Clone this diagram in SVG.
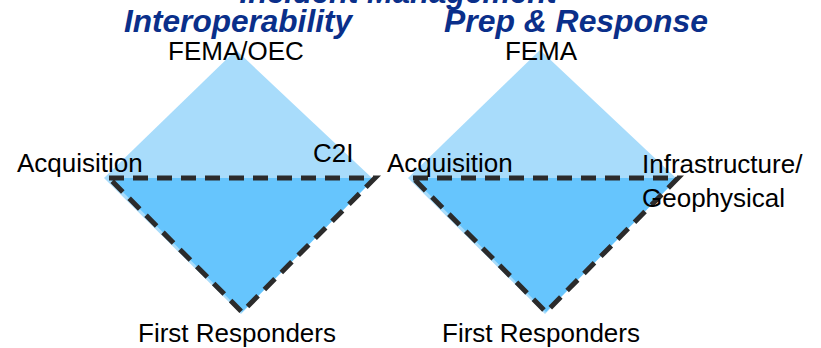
<svg xmlns="http://www.w3.org/2000/svg" width="821" height="348" viewBox="0 0 821 348">
  <style>
    .light { fill: #A8DCFB; }
    .dark { fill: #66C5FD; }
    .dash { fill: none; stroke: #2B2B2B; stroke-width: 5; stroke-dasharray: 15 9; stroke-linejoin: miter; stroke-miterlimit: 10; }
    .title { font-family: "Liberation Sans", Arial, sans-serif; font-weight: bold; font-style: italic; font-size: 31px; fill: #0A2F8A; }
    .lbl { font-family: "Liberation Sans", Arial, sans-serif; font-size: 26px; fill: #000000; }
  </style>
  <rect width="821" height="348" fill="#FFFFFF"/>
  <g id="diamond-left">
    <polygon class="light" points="236,50 372,178 241,314 104,178"/>
    <polygon class="dark" points="109,178 375,178 242,312"/>
    <polygon class="dash" points="109,178 375,178 242,312"/>
  </g>
  <g id="diamond-right">
    <polygon class="light" points="540,50 676,178 545,314 408,178"/>
    <polygon class="dark" points="413,178 678,178 546,312"/>
    <polygon class="dash" points="413,178 678,178 546,312"/>
  </g>
  <g id="title">
    <text class="title" x="398" y="3" text-anchor="middle">Incident Management</text>
  </g>
  <g id="subtitle-left">
    <text class="title" x="238" y="32" text-anchor="middle" textLength="228" lengthAdjust="spacingAndGlyphs">Interoperability</text>
  </g>
  <g id="subtitle-right">
    <text class="title" x="576" y="32" text-anchor="middle" textLength="264" lengthAdjust="spacingAndGlyphs">Prep &amp; Response</text>
  </g>
  <g id="labels-left">
    <text class="lbl" x="236" y="60" text-anchor="middle">FEMA/OEC</text>
    <text class="lbl" x="17" y="172">Acquisition</text>
    <text class="lbl" x="313" y="162">C2I</text>
    <text class="lbl" x="237" y="342" text-anchor="middle">First Responders</text>
  </g>
  <g id="labels-right">
    <text class="lbl" x="541" y="60" text-anchor="middle">FEMA</text>
    <text class="lbl" x="387" y="172">Acquisition</text>
    <text class="lbl" x="642" y="173">Infrastructure/</text>
    <text class="lbl" x="642" y="207">Geophysical</text>
    <text class="lbl" x="541" y="342" text-anchor="middle">First Responders</text>
  </g>
  <g id="connectors"></g>
</svg>
